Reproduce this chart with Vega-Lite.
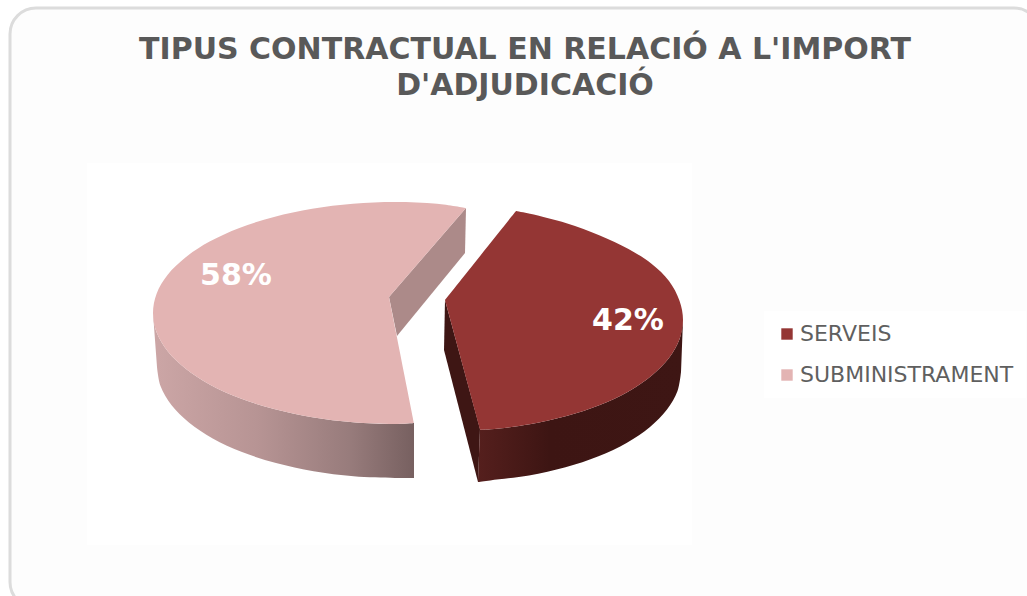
{
"$schema":"https://vega.github.io/schema/vega-lite/v6.json",
"autosize":{"type":"none"},
"padding":{"left":10,"top":8,"right":0,"bottom":0},
"width":1030,"height":600,
"background":"#ffffff",
"view":{"stroke":"#dcdcdc","strokeWidth":3,"cornerRadius":26,"fill":"#fdfdfd"},
"title":{"text":["TIPUS CONTRACTUAL EN RELACIÓ A L'IMPORT","D'ADJUDICACIÓ"],"font":"DejaVu Sans","fontWeight":"bold","fontSize":30,"lineHeight":36,"color":"#595959","anchor":"middle","offset":-93,"dx":0},
"datasets":{
"shares":[{"categoria":"SERVEIS","share":0.42,"px":628,"py":321},{"categoria":"SUBMINISTRAMENT","share":0.58,"px":236,"py":276}],
"panel":[{"x0":87,"x1":692,"y0":163,"y1":545}],
"outline":[
{"face":"pinkInner","n":1,"x":466,"y":208},{"face":"pinkInner","n":2,"x":465,"y":253},{"face":"pinkInner","n":3,"x":397,"y":336},{"face":"pinkInner","n":4,"x":389,"y":297},
{"face":"pinkWall","n":1,"x":153,"y":313},{"face":"pinkWall","n":2,"x":156.6,"y":332.3},{"face":"pinkWall","n":3,"x":167.5,"y":351},{"face":"pinkWall","n":4,"x":185.4,"y":368.5},{"face":"pinkWall","n":5,"x":209.6,"y":384.4},{"face":"pinkWall","n":6,"x":239.4,"y":398},{"face":"pinkWall","n":7,"x":274,"y":409.1},{"face":"pinkWall","n":8,"x":312.2,"y":417.3},{"face":"pinkWall","n":9,"x":353,"y":422.3},{"face":"pinkWall","n":10,"x":395,"y":424},{"face":"pinkWall","n":11,"x":414,"y":423},{"face":"pinkWall","n":11.5,"x":414,"y":423},{"face":"pinkWall","n":12,"x":414,"y":478},{"face":"pinkWall","n":12.5,"x":414,"y":478},{"face":"pinkWall","n":13,"x":395,"y":478},{"face":"pinkWall","n":14,"x":353.6,"y":476.3},{"face":"pinkWall","n":15,"x":313.6,"y":471.3},{"face":"pinkWall","n":16,"x":276,"y":463.1},{"face":"pinkWall","n":17,"x":242,"y":452},{"face":"pinkWall","n":18,"x":212.7,"y":438.4},{"face":"pinkWall","n":19,"x":188.9,"y":422.5},{"face":"pinkWall","n":20,"x":171.4,"y":405},{"face":"pinkWall","n":21,"x":160.6,"y":386.3},{"face":"pinkWall","n":22,"x":157,"y":367},
{"face":"top","categoria":"SUBMINISTRAMENT","n":1,"x":466,"y":208},{"face":"top","categoria":"SUBMINISTRAMENT","n":2,"x":437,"y":203.7},{"face":"top","categoria":"SUBMINISTRAMENT","n":3,"x":395,"y":202},{"face":"top","categoria":"SUBMINISTRAMENT","n":4,"x":353,"y":203.7},{"face":"top","categoria":"SUBMINISTRAMENT","n":5,"x":312.2,"y":208.7},{"face":"top","categoria":"SUBMINISTRAMENT","n":6,"x":274,"y":216.9},{"face":"top","categoria":"SUBMINISTRAMENT","n":7,"x":239.4,"y":228},{"face":"top","categoria":"SUBMINISTRAMENT","n":8,"x":209.6,"y":241.6},{"face":"top","categoria":"SUBMINISTRAMENT","n":9,"x":185.4,"y":257.5},{"face":"top","categoria":"SUBMINISTRAMENT","n":10,"x":167.5,"y":275},{"face":"top","categoria":"SUBMINISTRAMENT","n":11,"x":156.6,"y":293.7},{"face":"top","categoria":"SUBMINISTRAMENT","n":12,"x":153,"y":313},{"face":"top","categoria":"SUBMINISTRAMENT","n":13,"x":156.6,"y":332.3},{"face":"top","categoria":"SUBMINISTRAMENT","n":14,"x":167.5,"y":351},{"face":"top","categoria":"SUBMINISTRAMENT","n":15,"x":185.4,"y":368.5},{"face":"top","categoria":"SUBMINISTRAMENT","n":16,"x":209.6,"y":384.4},{"face":"top","categoria":"SUBMINISTRAMENT","n":17,"x":239.4,"y":398},{"face":"top","categoria":"SUBMINISTRAMENT","n":18,"x":274,"y":409.1},{"face":"top","categoria":"SUBMINISTRAMENT","n":19,"x":312.2,"y":417.3},{"face":"top","categoria":"SUBMINISTRAMENT","n":20,"x":353,"y":422.3},{"face":"top","categoria":"SUBMINISTRAMENT","n":21,"x":395,"y":424},{"face":"top","categoria":"SUBMINISTRAMENT","n":22,"x":414,"y":423},{"face":"top","categoria":"SUBMINISTRAMENT","n":22.5,"x":414,"y":423},{"face":"top","categoria":"SUBMINISTRAMENT","n":23,"x":389,"y":297},{"face":"top","categoria":"SUBMINISTRAMENT","n":23.5,"x":389,"y":297},
{"face":"redLeft","n":1,"x":445,"y":300},{"face":"redLeft","n":2,"x":444,"y":350},{"face":"redLeft","n":3,"x":478,"y":482},{"face":"redLeft","n":4,"x":480,"y":429},
{"face":"redWall","n":1,"x":683,"y":320},{"face":"redWall","n":2,"x":679.5,"y":339.3},{"face":"redWall","n":3,"x":669,"y":358},{"face":"redWall","n":4,"x":651.8,"y":375.5},{"face":"redWall","n":5,"x":628.5,"y":391.4},{"face":"redWall","n":6,"x":599.8,"y":405},{"face":"redWall","n":7,"x":566.5,"y":416.1},{"face":"redWall","n":8,"x":529.7,"y":424.3},{"face":"redWall","n":9,"x":490.5,"y":429.3},{"face":"redWall","n":10,"x":480,"y":429.8},{"face":"redWall","n":10.5,"x":480,"y":429.8},{"face":"redWall","n":11,"x":478,"y":482},{"face":"redWall","n":11.5,"x":478,"y":482},{"face":"redWall","n":12,"x":490.2,"y":480.4},{"face":"redWall","n":13,"x":529,"y":475.4},{"face":"redWall","n":14,"x":565.5,"y":467.3},{"face":"redWall","n":15,"x":598.5,"y":456.3},{"face":"redWall","n":16,"x":627,"y":442.7},{"face":"redWall","n":17,"x":650,"y":427},{"face":"redWall","n":18,"x":667,"y":409.6},{"face":"redWall","n":19,"x":677.5,"y":391.1},{"face":"redWall","n":20,"x":681,"y":372},
{"face":"top","categoria":"SERVEIS","n":1,"x":445,"y":300},{"face":"top","categoria":"SERVEIS","n":1.5,"x":445,"y":300},{"face":"top","categoria":"SERVEIS","n":2,"x":516,"y":211},{"face":"top","categoria":"SERVEIS","n":2.5,"x":516,"y":211},{"face":"top","categoria":"SERVEIS","n":3,"x":530,"y":213.8},{"face":"top","categoria":"SERVEIS","n":4,"x":566.5,"y":223.3},{"face":"top","categoria":"SERVEIS","n":5,"x":599.8,"y":235.5},{"face":"top","categoria":"SERVEIS","n":6,"x":628.5,"y":249},{"face":"top","categoria":"SERVEIS","n":7,"x":651.8,"y":264},{"face":"top","categoria":"SERVEIS","n":8,"x":669,"y":281},{"face":"top","categoria":"SERVEIS","n":9,"x":679.5,"y":300.7},{"face":"top","categoria":"SERVEIS","n":10,"x":683,"y":320},{"face":"top","categoria":"SERVEIS","n":11,"x":679.5,"y":339.3},{"face":"top","categoria":"SERVEIS","n":12,"x":669,"y":358},{"face":"top","categoria":"SERVEIS","n":13,"x":651.8,"y":375.5},{"face":"top","categoria":"SERVEIS","n":14,"x":628.5,"y":391.4},{"face":"top","categoria":"SERVEIS","n":15,"x":599.8,"y":405},{"face":"top","categoria":"SERVEIS","n":16,"x":566.5,"y":416.1},{"face":"top","categoria":"SERVEIS","n":17,"x":529.7,"y":424.3},{"face":"top","categoria":"SERVEIS","n":18,"x":490.5,"y":429.3},{"face":"top","categoria":"SERVEIS","n":19,"x":480,"y":429.8}
]},
"encoding":{
"x":{"field":"x","type":"quantitative","scale":{"domain":[10,1040]},"axis":null},
"y":{"field":"y","type":"quantitative","scale":{"domain":[608,8]},"axis":null}
},
"layer":[
{"data":{"name":"panel"},"mark":{"type":"rect","fill":"#ffffff"},
 "encoding":{"x":{"field":"x0","type":"quantitative","scale":{"domain":[10,1040]},"axis":null},"x2":{"field":"x1"},"y":{"field":"y0","type":"quantitative","scale":{"domain":[608,8]},"axis":null},"y2":{"field":"y1"}}},
{"data":{"name":"outline"},"transform":[{"filter":"datum.face==='pinkInner'"}],"mark":{"type":"line","filled":true,"fill":"#AC8A89","strokeWidth":0},"encoding":{"order":{"field":"n"}}},
{"data":{"name":"outline"},"transform":[{"filter":"datum.face==='pinkWall'"}],
 "mark":{"type":"line","filled":true,"interpolate":"catmull-rom","strokeWidth":0,"fill":{"x1":0,"x2":1,"y1":0,"y2":0,"gradient":"linear","stops":[{"offset":0,"color":"#CCA6A6"},{"offset":0.4,"color":"#B79494"},{"offset":0.75,"color":"#987C7C"},{"offset":1,"color":"#776060"}]}},"encoding":{"order":{"field":"n"}}},
{"data":{"name":"outline"},"transform":[{"filter":"datum.face==='redLeft'"}],"mark":{"type":"line","filled":true,"fill":"#3E1614","strokeWidth":0},"encoding":{"order":{"field":"n"}}},
{"data":{"name":"outline"},"transform":[{"filter":"datum.face==='redWall'"}],
 "mark":{"type":"line","filled":true,"interpolate":"catmull-rom","strokeWidth":0,"fill":{"x1":0,"x2":1,"y1":0,"y2":0,"gradient":"linear","stops":[{"offset":0,"color":"#551F1D"},{"offset":0.35,"color":"#3D1513"},{"offset":1,"color":"#3E1614"}]}},"encoding":{"order":{"field":"n"}}},
{"data":{"name":"outline"},"transform":[{"filter":"datum.face==='top'"}],"mark":{"type":"line","filled":true,"interpolate":"catmull-rom","strokeWidth":0},
 "encoding":{"order":{"field":"n"},"color":{"field":"categoria","type":"nominal","scale":{"domain":["SERVEIS","SUBMINISTRAMENT"],"range":["#943634","#E3B4B3"]},
 "legend":{"title":null,"orient":"none","legendX":754,"legendY":303,"symbolType":"square","symbolSize":130,"symbolStrokeWidth":0,"labelFont":"DejaVu Sans","labelFontSize":22,"labelColor":"#5f5f5f","labelLimit":300,"labelOffset":2,"rowPadding":19,"fillColor":"#ffffff","padding":12,"symbolOpacity":1}}}},
{"data":{"name":"shares"},"mark":{"type":"text","font":"DejaVu Sans","fontWeight":"bold","fontSize":30,"fill":"#ffffff","align":"center","baseline":"middle"},
 "encoding":{"x":{"field":"px","type":"quantitative"},"y":{"field":"py","type":"quantitative"},"text":{"field":"share","type":"quantitative","format":".0%"}}}
]
}
